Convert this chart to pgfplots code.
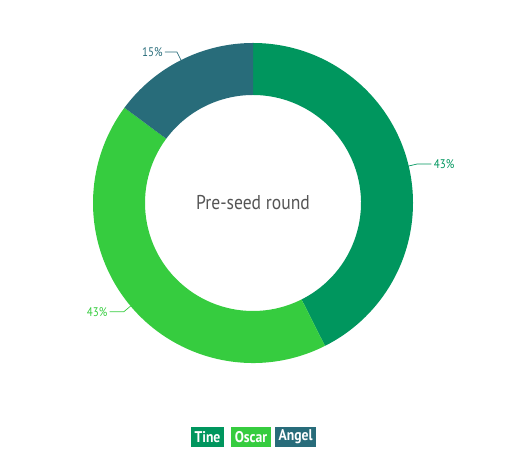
\documentclass[border=0pt]{standalone}
\usepackage{fontspec}
\setmainfont[FakeStretch=0.88]{PT Sans}
\usepackage{pgfplots}
\usepackage{pgfplotstable}
\pgfplotsset{compat=1.18}

\definecolor{tine}{HTML}{00965E}
\definecolor{oscar}{HTML}{36CC3F}
\definecolor{angel}{HTML}{286C7A}
\definecolor{ctr}{HTML}{555555}

% share of each investor type in the pre-seed round (%)
\pgfplotstableread{
name  value
Tine  43
Oscar 43
Angel 15
}\piedata

\begin{document}
\begin{tikzpicture}
\pgfplotstablegetelem{0}{value}\of\piedata \pgfmathsetmacro\va{\pgfplotsretval}
\pgfplotstablegetelem{1}{value}\of\piedata \pgfmathsetmacro\vb{\pgfplotsretval}
\pgfplotstablegetelem{2}{value}\of\piedata \pgfmathsetmacro\vc{\pgfplotsretval}
\pgfmathsetmacro\tot{\va+\vb+\vc}
% slices run clockwise from 12 o'clock
\pgfmathsetmacro\aA{90}
\pgfmathsetmacro\aB{\aA-360*\va/\tot}
\pgfmathsetmacro\aC{\aB-360*\vb/\tot}
\pgfmathsetmacro\aD{\aC-360*\vc/\tot}
\pgfmathsetmacro\mA{(\aA+\aB)/2}
\pgfmathsetmacro\mB{(\aB+\aC)/2}
\pgfmathsetmacro\mC{(\aC+\aD)/2}
\def\ro{160}
\def\ri{108}
\begin{axis}[
    x=1pt, y=1pt,
    xmin=-253, xmax=263, ymin=-267, ymax=203,
    hide axis, clip=false,
]
\path (axis cs:-253,-267) rectangle (axis cs:263,203);
% donut slices
\fill[tine] ({\ro*cos(\aA)},{\ro*sin(\aA)}) arc[start angle=\aA, end angle=\aB, radius=\ro pt]
    -- ({\ri*cos(\aB)},{\ri*sin(\aB)}) arc[start angle=\aB, end angle=\aA, radius=\ri pt] -- cycle;
\fill[oscar] ({\ro*cos(\aB)},{\ro*sin(\aB)}) arc[start angle=\aB, end angle=\aC, radius=\ro pt]
    -- ({\ri*cos(\aC)},{\ri*sin(\aC)}) arc[start angle=\aC, end angle=\aB, radius=\ri pt] -- cycle;
\fill[angel] ({\ro*cos(\aC)},{\ro*sin(\aC)}) arc[start angle=\aC, end angle=\aD, radius=\ro pt]
    -- ({\ri*cos(\aD)},{\ri*sin(\aD)}) arc[start angle=\aD, end angle=\aC, radius=\ri pt] -- cycle;

% leader lines and labels
\draw[tine, line width=0.7pt] ({\ro*cos(\mA)},{\ro*sin(\mA)}) -- ({(\ro+9)*cos(\mA)},{(\ro+9)*sin(\mA)})
    -- ({(\ro+9)*cos(\mA)+14},{(\ro+9)*sin(\mA)})
    node[right, inner sep=2pt, font=\fontsize{12.5}{14}\selectfont] {43\%};
\draw[oscar, line width=0.7pt] ({\ro*cos(\mB)},{\ro*sin(\mB)}) -- ({(\ro+9)*cos(\mB)},{(\ro+9)*sin(\mB)})
    -- ({(\ro+9)*cos(\mB)-14},{(\ro+9)*sin(\mB)})
    node[left, inner sep=2pt, font=\fontsize{12.5}{14}\selectfont] {43\%};
\draw[angel, line width=0.7pt] ({\ro*cos(\mC)},{\ro*sin(\mC)}) -- ({(\ro+9)*cos(\mC)},{(\ro+9)*sin(\mC)})
    -- ({(\ro+9)*cos(\mC)-12},{(\ro+9)*sin(\mC)})
    node[left, inner sep=2pt, font=\fontsize{12.5}{14}\selectfont] {15\%};

% centre title
\node[ctr, font=\fontsize{20}{24}\selectfont] at (axis cs:0,0) {Pre-seed round};

% legend
\begin{scope}[every node/.style={text=white, font=\bfseries\fontsize{15.5}{17}\selectfont,
        minimum height=20pt, inner xsep=3.5pt, inner ysep=0pt}]
\node[fill=oscar] (o) at (axis cs:-2,-234) {Oscar};
\node[fill=tine, anchor=east] at ([xshift=-7pt]o.west) {Tine};
\node[fill=angel, anchor=west] at ([xshift=4pt]o.east) {Angel};
\end{scope}
\end{axis}
\end{tikzpicture}
\end{document}
